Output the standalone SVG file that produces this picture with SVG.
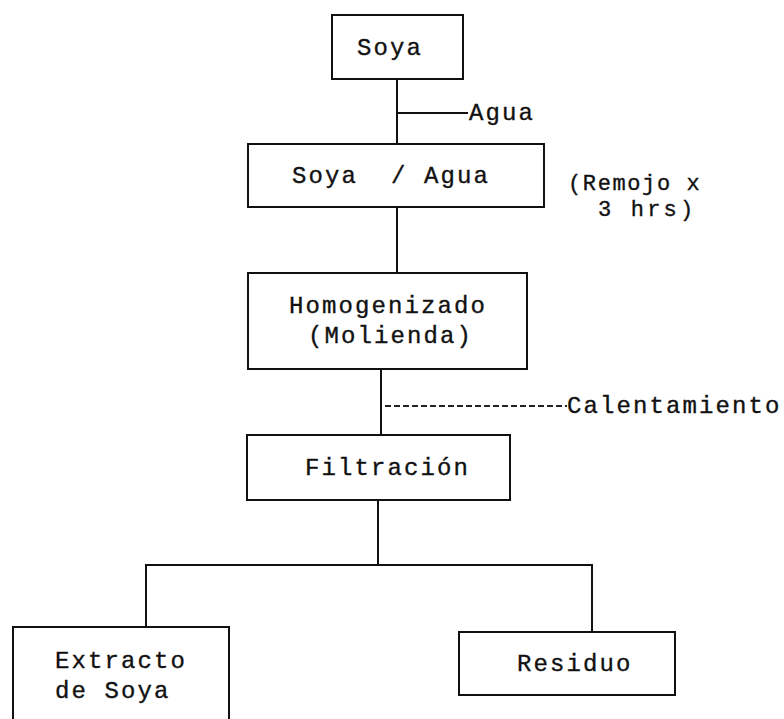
<svg xmlns="http://www.w3.org/2000/svg" width="784" height="719" viewBox="0 0 784 719">
  <style>
    .box { fill: #ffffff; stroke: #111111; stroke-width: 2; }
    .link { fill: none; stroke: #111111; stroke-width: 2; }
    .dash { fill: none; stroke: #222222; stroke-width: 2; stroke-dasharray: 6 3; }
    text { font-family: "Liberation Mono", "DejaVu Sans Mono", monospace; font-size: 24px; letter-spacing: 2.1px; fill: #111111; stroke: #111111; stroke-width: 0.35; white-space: pre; }
    .note { font-size: 22px; letter-spacing: 3.2px; }
  </style>
  <rect width="784" height="719" fill="#ffffff"/>

  <!-- connectors -->
  <g id="connectors">
    <line class="link" x1="397" y1="79" x2="397" y2="144"/>
    <line class="link" x1="397" y1="113" x2="468" y2="113"/>
    <line class="link" x1="397" y1="207" x2="397" y2="273"/>
    <line class="link" x1="381" y1="369" x2="381" y2="435"/>
    <line class="dash" x1="385" y1="406" x2="567" y2="406"/>
    <line class="link" x1="378" y1="500" x2="378" y2="565"/>
    <polyline class="link" points="146,627 146,565 592,565 592,632"/>
  </g>

  <!-- side inputs and notes -->
  <g id="input-agua">
    <text x="469" y="120">Agua</text>
  </g>
  <g id="note-remojo">
    <text class="note" x="568" y="190" textLength="135" lengthAdjust="spacing">(Remojo x</text>
    <text class="note" x="598" y="216">3 hrs)</text>
  </g>
  <g id="input-calentamiento">
    <text x="567" y="413">Calentamiento</text>
  </g>

  <!-- process steps -->
  <g id="node-soya">
    <rect class="box" x="332" y="15" width="131" height="64"/>
    <text x="357" y="55">Soya</text>
  </g>
  <g id="node-soya-agua">
    <rect class="box" x="248" y="144" width="296" height="63"/>
    <text x="292" y="183">Soya  / Agua</text>
  </g>
  <g id="node-homogenizado">
    <rect class="box" x="248" y="273" width="279" height="96"/>
    <text x="289" y="313">Homogenizado</text>
    <text x="308" y="343">(Molienda)</text>
  </g>
  <g id="node-filtracion">
    <rect class="box" x="247" y="435" width="263" height="65"/>
    <text x="305" y="475">Filtración</text>
  </g>
  <g id="node-extracto">
    <rect class="box" x="13" y="627" width="216" height="110"/>
    <text x="55" y="668">Extracto</text>
    <text x="55" y="698">de Soya</text>
  </g>
  <g id="node-residuo">
    <rect class="box" x="459" y="632" width="216" height="63"/>
    <text x="517" y="671">Residuo</text>
  </g>
</svg>
